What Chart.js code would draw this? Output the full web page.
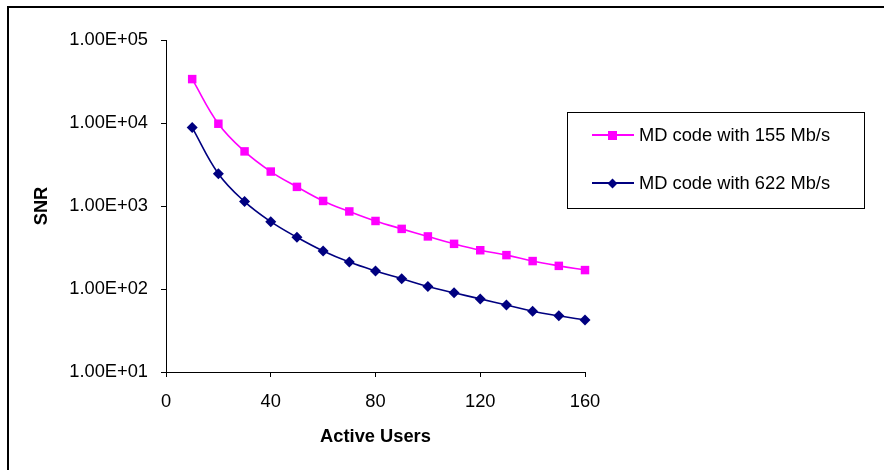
<!DOCTYPE html>
<html>
<head>
<meta charset="utf-8">
<script src="https://cdn.jsdelivr.net/npm/chart.js@4/dist/chart.umd.min.js"></script>
<style>
    body { margin: 0; background: #fff; }
    #wrap { position: relative; width: 884px; height: 470px; }
    #frame { position: absolute; left: 7px; top: 6px; right: -4px; bottom: -4px;
             border-left: 2px solid #000; border-top: 2px solid #000; pointer-events: none; }
    #legend { position: absolute; left: 567px; top: 112px; width: 298px; height: 97px;
              border: 1px solid #000; font-family: "Liberation Sans", Arial, sans-serif;
              font-size: 18.3px; color: #000; box-sizing: border-box; }
    .item { position: absolute; left: 24px; height: 20px; display: flex; align-items: center; }
    .sample { position: relative; width: 42px; height: 20px; margin-right: 5px; }
    .sample .ln { position: absolute; left: 0; right: 0; top: 9px; height: 2px; }
    .sample .mk { position: absolute; }
</style>
</head>
<body>
<div id="wrap">
    <canvas id="snr_chart" width="884" height="470"></canvas>
    <div id="frame"></div>
    <div id="legend"></div>
</div>
<script>
// data
const users = [10, 20, 30, 40, 50, 60, 70, 80, 90, 100, 110, 120, 130, 140, 150, 160];
const snr_155 = [33800, 9800, 4550, 2600, 1700, 1150, 860, 660, 530, 430, 350, 293, 256, 217, 190, 169];
const snr_622 = [8800, 2450, 1130, 648, 420, 287, 211, 165, 133, 107, 90, 76, 64, 54, 47.5, 42.3];
const labels_series = ["MD code with 155 Mb/s", "MD code with 622 Mb/s"];
const y_tick_values = [10, 100, 1000, 10000, 100000];
const x_tick_values = [0, 40, 80, 120, 160];

const FONT = "'Liberation Sans', Arial, sans-serif";

function fmt_exp(v) {
    const e = Math.round(Math.log10(v));
    const m = (v / Math.pow(10, e)).toFixed(2);
    const es = (e < 10 ? "0" : "") + e;
    return m + "E+" + es;
}

function to_points(xs, ys) {
    return xs.map( function (x, i) { return {x: x, y: ys[i]}; } );
}

const series = [
    { label: labels_series[0], data: snr_155, color: "#FF00FF", style: "rect", radius: 6 },
    { label: labels_series[1], data: snr_622, color: "#000080", style: "rectRot", radius: 5.5 }
];

const chart = new Chart(document.getElementById("snr_chart"), {
    type: "line",
    data: {
        datasets: series.map( function (s) {
            return {
                label: s.label,
                data: to_points(users, s.data),
                borderColor: s.color,
                backgroundColor: s.color,
                borderWidth: 1.6,
                pointStyle: s.style,
                pointRadius: s.radius,
                pointBorderWidth: 0,
                tension: 0.4,
                clip: false,
                fill: false
            };
        })
    },
    options: {
        responsive: false,
        animation: false,
        layout: { padding: { left: 8, top: 40, right: 299, bottom: 20 } },
        plugins: { legend: { display: false }, tooltip: { enabled: false } },
        scales: {
            x: {
                type: "linear",
                min: 0, max: 160,
                afterBuildTicks: function (scale) {
                    scale.ticks = x_tick_values.map( function (v) { return {value: v}; } );
                },
                afterFit: function (scale) { scale.height = 78; },
                grid: { drawOnChartArea: false, drawTicks: true, tickLength: 5, color: "#000" },
                border: { display: true, color: "#000", width: 1 },
                ticks: { color: "#000", padding: 14, font: { family: FONT, size: 18.3 } },
                title: { display: true, text: "Active Users", color: "#000",
                         padding: { top: 4, bottom: 2.5 },
                         font: { family: FONT, size: 18.3, weight: "bold" } }
            },
            y: {
                type: "logarithmic",
                min: 10, max: 100000,
                afterBuildTicks: function (scale) {
                    scale.ticks = y_tick_values.map( function (v) { return {value: v}; } );
                },
                afterFit: function (scale) { scale.width = 158; },
                grid: { drawOnChartArea: false, drawTicks: true, tickLength: 5, color: "#000" },
                border: { display: true, color: "#000", width: 1 },
                ticks: { color: "#000", padding: 13, font: { family: FONT, size: 18.3 },
                         callback: function (v) { return fmt_exp(v); } },
                title: { display: true, text: "SNR", color: "#000",
                         padding: { top: 23, bottom: 0 },
                         font: { family: FONT, size: 18.3, weight: "bold" } }
            }
        }
    }
});

// legend as html, built from the series list
function build_legend() {
    const box = document.getElementById("legend");
    const tops = [12, 60];
    series.forEach( function (s, i) {
        const item = document.createElement("div");
        item.className = "item";
        item.style.top = tops[i] + "px";
        const sample = document.createElement("div");
        sample.className = "sample";
        const ln = document.createElement("div");
        ln.className = "ln";
        ln.style.background = s.color;
        const mk = document.createElement("div");
        mk.className = "mk";
        mk.style.background = s.color;
        if (s.style === "rect") {
            mk.style.width = "9px"; mk.style.height = "9px";
            mk.style.left = "16px"; mk.style.top = "5.5px";
        } else {
            mk.style.width = "7px"; mk.style.height = "7px";
            mk.style.left = "17px"; mk.style.top = "6.5px";
            mk.style.transform = "rotate(45deg)";
        }
        sample.appendChild(ln);
        sample.appendChild(mk);
        const txt = document.createElement("span");
        txt.textContent = s.label;
        item.appendChild(sample);
        item.appendChild(txt);
        box.appendChild(item);
    });
}
build_legend();
</script>
</body>
</html>
